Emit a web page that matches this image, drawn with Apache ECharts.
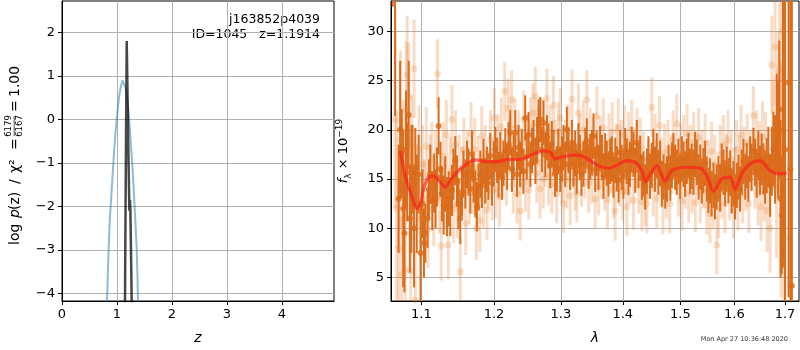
<!DOCTYPE html>
<html>
<head>
<meta charset="utf-8">
<script src="https://cdn.jsdelivr.net/npm/echarts@6/dist/echarts.min.js"></script>
<style>
  html, body { margin: 0; padding: 0; background: #fff; }
  #chart { width: 800px; height: 350px; }
</style>
</head>
<body>
<div id="chart"></div>
<script>
// p(z) panel: redshift grid and log p(z) curves
const pzBlue = [
  [0.800, -4.8], [0.814, -4.18], [0.825, -4.0], [0.840, -3.3], [0.860, -2.6], [0.875, -2.2],
  [0.890, -1.9], [0.920, -1.3], [0.947, -0.75], [0.970, -0.35], [0.996, 0.0], [1.020, 0.30],
  [1.040, 0.54], [1.070, 0.76], [1.100, 0.90], [1.117, 0.93], [1.135, 0.89], [1.160, 0.72],
  [1.190, 0.45], [1.220, 0.05], [1.250, -0.50], [1.280, -1.05], [1.300, -1.50], [1.330, -2.20],
  [1.360, -3.00], [1.375, -3.70], [1.385, -4.40], [1.395, -5.0]
];
const pzBlack = [
  [1.144, -4.8], [1.150, -3.4], [1.164, -0.6], [1.178, 1.81], [1.200, -0.1], [1.226, -2.1],
  [1.236, -1.85], [1.244, -2.05], [1.262, -3.6], [1.274, -4.8]
];

const zTicks = [0, 1, 2, 3, 4];
const pzTicks = [-4, -3, -2, -1, 0, 1, 2];

// spectrum panel: wavelength in microns, flux in 1e-19
const lamTicks = [1.1, 1.2, 1.3, 1.4, 1.5, 1.6, 1.7];
const fluxTicks = [5, 10, 15, 20, 25, 30];

// [lambda, flux, err] of the individual (faint) points
const lightPts = [
  [1.066, 21.0, 9.0], [1.068, 12.0, 10.0], [1.0705, 8.0, 7.0], [1.073, 19.0, 9.0], [1.0745, 5.3, 6.0],
  [1.0765, 15.0, 8.0], [1.079, 5.8, 6.5], [1.0805, 22.0, 7.0], [1.0815, 25.6, 6.0], [1.0835, 23.4, 5.5],
  [1.086, 5.7, 5.5], [1.0875, 18.5, 5.0], [1.0905, 26.2, 5.0], [1.0921, 2.7, 5.0], [1.0945, 14.0, 4.5],
  [1.097, 18.0, 4.5], [1.0995, 11.0, 4.5], [1.1015, 16.5, 4.0], [1.104, 13.0, 4.0], [1.1065, 18.3, 4.0],
  [1.109, 10.0, 4.0], [1.1115, 15.5, 4.0], [1.114, 17.0, 3.8], [1.1165, 12.0, 3.8], [1.119, 16.5, 3.5],
  [1.1215, 25.7, 3.5], [1.124, 13.0, 3.5], [1.1265, 8.2, 3.5], [1.129, 17.3, 3.5], [1.131, 13.5, 3.5],
  [1.1335, 19.5, 3.5], [1.136, 8.3, 3.5], [1.1385, 15.8, 3.5], [1.141, 21.05, 3.5], [1.1435, 12.0, 3.5],
  [1.146, 18.5, 3.5], [1.1485, 12.5, 3.5], [1.151, 16.0, 3.5], [1.1525, 5.6, 3.5], [1.155, 14.8, 3.5],
  [1.1575, 18.0, 3.2], [1.160, 10.5, 3.2], [1.1625, 16.7, 3.2], [1.165, 13.6, 3.2], [1.1675, 19.6, 3.2],
  [1.170, 14.6, 3.2], [1.1725, 18.0, 3.2], [1.175, 10.0, 3.2], [1.1775, 16.2, 3.2], [1.180, 10.8, 3.2],
  [1.1825, 19.4, 3.0], [1.185, 13.0, 3.0], [1.1875, 17.5, 3.0], [1.190, 11.85, 3.0], [1.1925, 15.0, 3.0],
  [1.195, 19.0, 3.0], [1.1975, 13.8, 3.0], [1.2005, 21.2, 3.0], [1.203, 14.0, 3.0], [1.2055, 18.6, 3.0],
  [1.208, 13.2, 3.0], [1.2105, 20.3, 3.0], [1.213, 16.0, 3.0], [1.2155, 23.9, 3.0], [1.218, 15.3, 3.0],
  [1.2205, 22.2, 3.0], [1.223, 18.5, 3.0], [1.2255, 23.06, 3.0], [1.228, 14.5, 3.0], [1.2305, 20.2, 3.0],
  [1.2335, 13.5, 3.0], [1.236, 19.0, 3.0], [1.2383, 11.75, 3.0], [1.241, 17.0, 3.0], [1.2435, 21.0, 3.0],
  [1.246, 14.7, 3.0], [1.2485, 18.6, 3.0], [1.251, 13.9, 3.0], [1.2535, 20.3, 3.0], [1.2572, 21.7, 3.0],
  [1.2607, 23.4, 3.0], [1.263, 15.6, 3.0], [1.2655, 19.3, 3.0], [1.268, 14.0, 3.0], [1.2705, 20.2, 3.0],
  [1.273, 15.0, 3.0], [1.2755, 17.2, 3.0], [1.2784, 23.2, 3.0], [1.281, 15.3, 3.0], [1.2835, 19.5, 3.0],
  [1.286, 14.5, 3.0], [1.2886, 22.5, 3.0], [1.291, 18.0, 3.0], [1.2935, 13.5, 3.0], [1.296, 19.8, 3.0],
  [1.299, 21.2, 3.0], [1.3015, 15.6, 3.0], [1.3042, 12.5, 3.0], [1.307, 18.0, 3.0], [1.3095, 15.0, 3.0],
  [1.312, 19.6, 3.0], [1.3146, 13.3, 3.0], [1.3173, 23.1, 3.0], [1.320, 17.0, 3.0], [1.3225, 14.8, 3.0],
  [1.3251, 13.6, 3.0], [1.3277, 21.7, 3.0], [1.330, 18.6, 3.0], [1.3325, 15.2, 3.0], [1.3355, 20.0, 3.0],
  [1.338, 16.0, 3.0], [1.3411, 23.06, 3.0], [1.344, 14.6, 3.0], [1.3465, 19.2, 3.0], [1.349, 15.5, 3.0],
  [1.3515, 18.3, 3.0], [1.3545, 13.0, 3.0], [1.3572, 21.4, 3.0], [1.360, 14.3, 3.0], [1.3625, 18.4, 3.0],
  [1.365, 16.0, 3.0], [1.3678, 20.2, 3.0], [1.370, 14.8, 3.0], [1.3746, 12.9, 3.0], [1.377, 18.6, 3.0],
  [1.380, 16.5, 3.0], [1.3825, 19.8, 3.0], [1.385, 14.0, 3.0], [1.3873, 11.75, 3.0], [1.390, 17.6, 3.0],
  [1.3925, 20.2, 3.0], [1.395, 15.2, 3.0], [1.3975, 18.0, 3.0], [1.400, 13.8, 3.0], [1.4025, 19.5, 3.0],
  [1.405, 16.4, 3.0], [1.4068, 12.2, 3.0], [1.4095, 18.8, 3.0], [1.412, 15.5, 3.0], [1.415, 20.0, 3.0],
  [1.418, 12.85, 3.0], [1.421, 17.0, 3.0], [1.424, 19.2, 3.0], [1.427, 14.5, 3.0], [1.4295, 18.2, 3.0],
  [1.4323, 12.7, 3.0], [1.435, 16.8, 3.0], [1.438, 13.2, 3.0], [1.4409, 12.5, 3.0], [1.444, 16.0, 3.0],
  [1.4495, 22.3, 3.0], [1.452, 14.2, 3.0], [1.455, 18.6, 3.0], [1.458, 13.0, 3.0], [1.4628, 20.45, 3.0],
  [1.466, 16.2, 3.0], [1.469, 12.4, 3.0], [1.472, 17.6, 3.0], [1.475, 14.0, 3.0], [1.478, 18.0, 3.0],
  [1.481, 12.5, 3.0], [1.484, 16.5, 3.0], [1.487, 19.0, 3.0], [1.4935, 20.65, 3.0], [1.4965, 14.2, 3.0],
  [1.500, 17.6, 3.0], [1.503, 12.8, 3.0], [1.506, 18.5, 3.0], [1.509, 15.0, 3.0], [1.512, 19.6, 3.0],
  [1.515, 13.6, 3.0], [1.518, 17.5, 3.0], [1.521, 14.5, 3.0], [1.524, 18.8, 3.0], [1.527, 12.6, 3.0],
  [1.530, 16.8, 3.0], [1.533, 19.2, 3.0], [1.536, 13.5, 3.0], [1.539, 17.0, 3.0], [1.542, 15.0, 3.0],
  [1.545, 18.6, 3.0], [1.5481, 12.35, 3.0], [1.551, 16.0, 3.0], [1.554, 11.5, 3.0], [1.557, 17.8, 3.0],
  [1.560, 13.0, 3.0], [1.563, 16.5, 3.0], [1.5667, 8.3, 3.0], [1.570, 12.0, 3.0], [1.573, 17.5, 3.0],
  [1.576, 14.0, 3.0], [1.579, 18.5, 3.0], [1.582, 12.5, 3.0], [1.585, 16.6, 3.0], [1.588, 19.0, 3.0],
  [1.591, 13.8, 3.0], [1.594, 17.0, 3.0], [1.5983, 11.95, 3.0], [1.601, 15.2, 3.0], [1.604, 18.0, 3.0],
  [1.607, 12.8, 3.0], [1.610, 16.5, 3.0], [1.613, 19.5, 3.0], [1.616, 13.5, 3.0], [1.619, 17.3, 3.0],
  [1.622, 14.8, 3.0], [1.625, 18.6, 3.0], [1.628, 12.5, 3.0], [1.631, 17.0, 3.0], [1.6369, 21.45, 3.0],
  [1.640, 15.2, 3.2], [1.643, 18.8, 3.2], [1.646, 13.6, 3.3], [1.649, 17.5, 3.4], [1.652, 12.2, 3.5],
  [1.655, 19.3, 3.6], [1.658, 14.5, 3.8], [1.661, 17.8, 4.0], [1.664, 11.8, 4.2], [1.6699, 10.0, 4.5],
  [1.6733, 26.6, 5.0], [1.676, 19.5, 5.5], [1.680, 28.4, 6.0], [1.683, 14.0, 7.0], [1.686, 22.0, 8.0],
  [1.689, 26.0, 10.0], [1.692, 15.0, 12.0], [1.695, 30.0, 14.0], [1.698, 9.0, 15.0]
];

// [lambda, flux, err] of the binned (dark) points
const darkPts = [
  [1.063, 40.0, 7.5], [1.066, 36.0, 14.6], [1.0705, 13.0, 5.5], [1.0725, 20.0, 7.0], [1.0745, 17.6, 4.5],
  [1.0765, 12.0, 8.0], [1.078, 9.5, 6.0], [1.080, 18.0, 6.0], [1.0815, 15.7, 5.0], [1.0835, 21.5, 5.5],
  [1.085, 11.0, 5.5], [1.087, 14.0, 6.5], [1.0885, 16.0, 4.5], [1.0905, 10.0, 6.0], [1.0921, 16.2, 4.0],
  [1.094, 12.5, 5.0], [1.0965, 15.5, 4.0], [1.099, 7.5, 5.0], [1.1015, 12.5, 3.5], [1.1035, 8.5, 3.5],
  [1.1053, 9.5, 3.0], [1.1083, 11.0, 3.0], [1.110, 14.0, 3.0], [1.1119, 15.5, 3.0], [1.1145, 12.8, 3.0],
  [1.117, 14.6, 3.0], [1.119, 13.0, 3.0], [1.1208, 15.2, 3.0], [1.123, 20.4, 2.9], [1.1255, 16.0, 2.8],
  [1.1275, 13.5, 2.8], [1.1298, 12.35, 3.0], [1.132, 14.5, 2.8], [1.1343, 12.2, 3.0], [1.1365, 13.0, 2.8],
  [1.1388, 12.2, 3.0], [1.1411, 13.86, 2.6], [1.143, 15.5, 2.6], [1.1457, 16.87, 2.5], [1.148, 14.8, 2.6],
  [1.150, 12.5, 2.6], [1.1525, 11.0, 2.6], [1.1549, 13.7, 2.5], [1.157, 15.5, 2.4], [1.1595, 14.5, 2.5],
  [1.1618, 16.5, 2.4], [1.164, 15.7, 2.4], [1.1665, 14.0, 2.5], [1.1688, 17.54, 2.4], [1.171, 15.0, 2.4],
  [1.1735, 13.5, 2.4], [1.1757, 12.2, 2.5], [1.178, 14.2, 2.4], [1.1805, 15.5, 2.4], [1.1828, 14.36, 2.3],
  [1.185, 16.8, 2.3], [1.1875, 14.8, 2.3], [1.1899, 16.0, 2.3], [1.192, 15.2, 2.3], [1.1946, 17.37, 2.3],
  [1.197, 14.6, 2.3], [1.1994, 16.54, 2.3], [1.202, 18.0, 2.3], [1.2045, 16.9, 2.3], [1.2066, 15.43, 2.3],
  [1.209, 17.5, 2.3], [1.2115, 15.2, 2.3], [1.2138, 16.6, 2.3], [1.2163, 17.87, 2.3], [1.219, 16.2, 2.3],
  [1.2212, 18.5, 2.3], [1.2236, 19.7, 2.3], [1.226, 16.0, 2.3], [1.2285, 17.2, 2.3], [1.2309, 19.7, 2.3],
  [1.2335, 15.5, 2.3], [1.2358, 18.2, 2.3], [1.238, 16.5, 2.3], [1.2405, 17.8, 2.3], [1.243, 15.8, 2.3],
  [1.2457, 21.2, 2.3], [1.248, 17.3, 2.3], [1.2507, 19.5, 2.3], [1.2535, 16.5, 2.3], [1.256, 17.9, 2.3],
  [1.2582, 18.7, 2.3], [1.261, 16.8, 2.3], [1.2635, 19.0, 2.3], [1.2657, 20.5, 2.6], [1.2683, 21.05, 2.3],
  [1.2708, 18.0, 2.3], [1.2733, 20.7, 2.3], [1.276, 17.5, 2.3], [1.2785, 19.2, 2.3], [1.2809, 18.37, 2.3],
  [1.2835, 16.37, 2.3], [1.286, 18.6, 2.3], [1.2886, 17.7, 2.3], [1.291, 15.5, 2.3], [1.2938, 16.03, 2.3],
  [1.296, 17.8, 2.3], [1.299, 16.0, 2.3], [1.3016, 17.04, 2.3], [1.304, 18.2, 2.3], [1.3068, 16.5, 2.3],
  [1.3094, 20.05, 2.3], [1.3119, 17.87, 2.3], [1.3145, 16.2, 2.3], [1.3173, 18.7, 2.3], [1.3198, 16.54, 2.3],
  [1.3225, 17.6, 2.3], [1.325, 15.8, 2.3], [1.3277, 18.37, 2.3], [1.330, 17.2, 2.3], [1.3325, 15.6, 2.3],
  [1.3356, 16.54, 2.3], [1.3385, 17.9, 2.3], [1.3411, 18.87, 2.3], [1.344, 16.3, 2.3], [1.3465, 17.3, 2.3],
  [1.3492, 17.7, 2.3], [1.3518, 19.37, 2.3], [1.3545, 16.0, 2.3], [1.357, 17.6, 2.3], [1.3598, 16.2, 2.3],
  [1.3625, 18.1, 2.3], [1.3654, 17.2, 2.3], [1.368, 15.3, 2.3], [1.3708, 17.37, 2.3], [1.3735, 16.6, 2.3],
  [1.3762, 15.53, 2.3], [1.379, 16.8, 2.3], [1.3818, 17.04, 2.3], [1.3845, 15.4, 2.3], [1.3875, 16.9, 2.3],
  [1.3901, 16.03, 2.3], [1.393, 14.9, 2.3], [1.3956, 17.7, 2.3], [1.398, 16.2, 2.3], [1.401, 15.3, 2.3],
  [1.404, 17.87, 2.3], [1.4068, 16.8, 2.3], [1.4095, 15.7, 2.3], [1.412, 16.5, 2.3], [1.415, 18.0, 2.3],
  [1.418, 17.54, 2.3], [1.421, 15.9, 2.3], [1.4238, 18.7, 2.3], [1.4265, 16.37, 2.3], [1.4295, 17.1, 2.3],
  [1.4323, 15.2, 2.3], [1.4351, 15.53, 2.3], [1.438, 14.2, 2.3], [1.441, 15.8, 2.3], [1.4437, 17.04, 2.3],
  [1.4465, 15.3, 2.3], [1.4495, 16.4, 2.3], [1.452, 17.8, 2.3], [1.455, 16.0, 2.3], [1.4582, 17.37, 2.3],
  [1.461, 15.7, 2.3], [1.464, 16.6, 2.3], [1.467, 14.5, 2.3], [1.470, 15.2, 2.3], [1.473, 14.3, 2.3],
  [1.476, 15.0, 2.3], [1.479, 16.2, 2.3], [1.482, 15.1, 2.3], [1.4848, 16.4, 2.3], [1.4875, 17.37, 2.3],
  [1.4905, 16.2, 2.3], [1.4935, 15.7, 2.3], [1.4965, 16.8, 2.3], [1.4995, 15.3, 2.3], [1.5026, 17.04, 2.3],
  [1.5055, 16.5, 2.3], [1.5085, 15.5, 2.3], [1.5115, 16.8, 2.3], [1.5144, 17.37, 2.3], [1.5175, 15.8, 2.3],
  [1.5205, 16.3, 2.3], [1.5236, 15.7, 2.3], [1.5265, 17.5, 2.3], [1.5297, 16.7, 2.3], [1.533, 15.2, 2.3],
  [1.536, 16.2, 2.3], [1.539, 14.8, 2.3], [1.5419, 15.86, 2.3], [1.545, 16.6, 2.3], [1.548, 15.0, 2.3],
  [1.5511, 13.86, 2.3], [1.554, 14.8, 2.3], [1.557, 13.5, 2.3], [1.5605, 14.36, 2.3], [1.5635, 13.2, 2.3],
  [1.5665, 14.2, 2.3], [1.5698, 15.03, 2.3], [1.573, 14.0, 2.3], [1.576, 16.3, 2.3], [1.5794, 15.7, 2.3],
  [1.5825, 14.6, 2.3], [1.5855, 16.0, 2.3], [1.5887, 14.86, 2.3], [1.592, 15.6, 2.3], [1.595, 13.8, 2.3],
  [1.5983, 14.53, 2.3], [1.6015, 13.2, 2.3], [1.6047, 14.36, 2.3], [1.608, 15.2, 2.3], [1.611, 14.0, 2.3],
  [1.6143, 15.7, 2.3], [1.6175, 16.8, 2.3], [1.621, 15.2, 2.3], [1.624, 16.37, 2.3], [1.627, 15.0, 2.3],
  [1.6304, 17.04, 2.3], [1.6335, 16.2, 2.4], [1.637, 17.8, 2.4], [1.6402, 16.7, 2.4], [1.6435, 15.6, 2.5],
  [1.6466, 17.37, 2.5], [1.650, 15.9, 2.5], [1.6533, 17.0, 2.6], [1.6566, 16.03, 2.6], [1.660, 15.2, 2.7],
  [1.6633, 16.37, 2.8], [1.6665, 17.3, 3.0], [1.6699, 14.36, 3.2], [1.6735, 16.8, 3.5], [1.6766, 18.04, 3.8],
  [1.680, 17.0, 4.5], [1.6834, 20.7, 5.0], [1.686, 19.0, 6.0], [1.6886, 22.06, 7.0], [1.691, 13.0, 8.0],
  [1.6934, 11.35, 6.0], [1.696, 20.0, 14.0], [1.700, 18.0, 20.0], [1.7073, 24.8, 21.8], [1.711, 16.0, 25.0],
  [1.7141, 4.16, 30.0]
];

// best-fit template (red)
const modelLam = [
  1.0727, 1.0791, 1.0856, 1.0945, 1.0987, 1.1030, 1.1096, 1.1163, 1.1253, 1.1320, 1.1388, 1.1479,
  1.1618, 1.1734, 1.1899, 1.2042, 1.2187, 1.2383, 1.2582, 1.2733, 1.2835, 1.2912, 1.3016, 1.3198,
  1.3331, 1.3464, 1.3626, 1.3762, 1.3901, 1.4068, 1.4209, 1.4323, 1.4380, 1.4466, 1.4582, 1.4727,
  1.4845, 1.5114, 1.5358, 1.5481, 1.5605, 1.5762, 1.5919, 1.6014, 1.6143, 1.6304, 1.6500, 1.6699,
  1.6900, 1.7035
];
const modelFlux = [
  17.87, 15.36, 13.7, 12.0, 12.5, 14.0, 15.2, 15.3, 14.7, 14.2, 14.86, 15.7,
  16.54, 16.94, 16.77, 16.77, 16.97, 17.0, 17.54, 17.87, 17.71, 17.04, 17.27, 17.44,
  17.37, 16.87, 16.3, 16.1, 16.43, 16.87, 16.7, 15.86, 14.7, 15.53, 16.37, 14.76,
  15.86, 16.2, 16.1, 15.36, 13.76, 15.03, 15.2, 13.96, 15.53, 16.54, 16.87, 15.86,
  15.53, 15.63
];

const lg = v => Math.log10(v);
const minusFmt = v => (v < 0 ? '\u2212' + Math.abs(v) : String(v));

const FONT = 'DejaVu Sans';
const darkOrange = '#da6c1c';
const lightOrange = 'rgba(232, 128, 50, 0.28)';
const gridColor = '#b0b0b0';

// vertical error bars, drawn through the axis scales
function errBars(color, width) {
  return function (params, api) {
    const x = api.value(0), y = api.value(1), e = api.value(2);
    const p1 = api.coord([x, y - e]);
    const p2 = api.coord([x, y + e]);
    return {
      type: 'line',
      shape: { x1: p1[0], y1: p1[1], x2: p2[0], y2: p2[1] },
      style: { stroke: color, lineWidth: width }
    };
  };
}

const axisCommon = {
  axisLine: { show: true, onZero: false, lineStyle: { color: '#000', width: 1 } },
  axisTick: { show: true, inside: false, length: 4, lineStyle: { color: '#000' } },
  splitLine: { show: true, lineStyle: { color: gridColor, width: 1 } },
  axisLabel: { color: '#000', fontSize: 13, fontFamily: FONT, margin: 7 }
};

// pieces of the p(z) y label: [text, offset along the label, italic]
const pzLabelParts = [
  ['log', -93, false], ['p', -66, true], ['(z)', -58, false], ['/', -32, false],
  ['\u03c7\u00b2', -21, false], ['=', 2, false], ['=', 40, false], ['1.00', 55, false]
];

const chart = echarts.init(document.getElementById('chart'));

const option = {
  animation: false,
  backgroundColor: '#fff',
  textStyle: { fontFamily: FONT },
  grid: [
    { left: 62, right: 466, top: 1, bottom: 46, show: true, borderColor: '#000', borderWidth: 1, backgroundColor: 'transparent' },
    { left: 391, right: 1, top: 1, bottom: 46, show: true, borderColor: '#000', borderWidth: 1, backgroundColor: 'transparent' }
  ],
  xAxis: [
    {
      type: 'value', gridIndex: 0, min: 0, max: 4.95,
      ...axisCommon,
      axisTick: { ...axisCommon.axisTick, customValues: zTicks },
      axisLabel: { ...axisCommon.axisLabel, customValues: zTicks },
      name: 'z', nameLocation: 'middle', nameGap: 30,
      nameTextStyle: { fontSize: 14, fontStyle: 'italic', color: '#000', fontFamily: FONT }
    },
    {
      type: 'value', gridIndex: 1, min: lg(1.0608), max: lg(1.7288),
      ...axisCommon,
      axisTick: { ...axisCommon.axisTick, customValues: lamTicks.map(lg) },
      axisLabel: {
        ...axisCommon.axisLabel, customValues: lamTicks.map(lg),
        formatter: v => Math.pow(10, v).toFixed(1)
      },
      name: '\u03bb', nameLocation: 'middle', nameGap: 30,
      nameTextStyle: { fontSize: 14, fontStyle: 'italic', color: '#000', fontFamily: FONT }
    }
  ],
  yAxis: [
    {
      type: 'value', gridIndex: 0, min: -4.18, max: 2.73,
      ...axisCommon,
      axisTick: { ...axisCommon.axisTick, customValues: pzTicks },
      axisLabel: { ...axisCommon.axisLabel, customValues: pzTicks, formatter: minusFmt }
    },
    {
      type: 'value', gridIndex: 1, min: 2.62, max: 33.08,
      ...axisCommon,
      axisTick: { ...axisCommon.axisTick, customValues: fluxTicks },
      axisLabel: { ...axisCommon.axisLabel, customValues: fluxTicks },
      name: '{i|f}{sub|\u03bb}{n| \u00d7 10}{sup|\u221219}',
      nameLocation: 'middle', nameGap: 38, nameRotate: 90,
      nameTextStyle: {
        color: '#000',
        rich: {
          i: { fontSize: 13, fontStyle: 'italic', fontFamily: FONT, lineHeight: 18 },
          n: { fontSize: 13, fontFamily: FONT, lineHeight: 18 },
          sub: { fontSize: 9, fontFamily: FONT, verticalAlign: 'bottom', lineHeight: 18 },
          sup: { fontSize: 9, fontFamily: FONT, verticalAlign: 'top', lineHeight: 18 }
        }
      }
    }
  ],
  series: [
    {
      type: 'line', xAxisIndex: 0, yAxisIndex: 0, data: pzBlue, showSymbol: false,
      clip: true, lineStyle: { color: 'rgba(31,119,180,0.5)', width: 2 }
    },
    {
      type: 'line', xAxisIndex: 0, yAxisIndex: 0, data: pzBlack, showSymbol: false,
      clip: true, lineStyle: { color: 'rgba(0,0,0,0.72)', width: 2.5 }
    },
    {
      type: 'custom', xAxisIndex: 1, yAxisIndex: 1, clip: true,
      data: lightPts.map(p => [lg(p[0]), p[1], p[2]]),
      renderItem: errBars(lightOrange, 3)
    },
    {
      type: 'scatter', xAxisIndex: 1, yAxisIndex: 1, clip: true,
      data: lightPts.map(p => [lg(p[0]), p[1]]),
      symbolSize: 7, itemStyle: { color: lightOrange }
    },
    {
      type: 'custom', xAxisIndex: 1, yAxisIndex: 1, clip: true,
      data: darkPts.map(p => [lg(p[0]), p[1], p[2]]),
      renderItem: errBars(darkOrange, 2)
    },
    {
      type: 'scatter', xAxisIndex: 1, yAxisIndex: 1, clip: true,
      data: darkPts.map(p => [lg(p[0]), p[1]]),
      symbolSize: 6, itemStyle: { color: darkOrange }
    },
    {
      type: 'line', xAxisIndex: 1, yAxisIndex: 1, showSymbol: false, smooth: 0.3, clip: true,
      data: modelLam.map((l, i) => [lg(l), modelFlux[i]]),
      lineStyle: { color: 'rgba(255,25,25,0.62)', width: 3.2 }
    }
  ],
  graphic: [
    // y label of the p(z) panel, with the chi2 fraction
    {
      type: 'group', x: 15, y: 152, rotation: Math.PI / 2,
      children: pzLabelParts.map(p => ({
        type: 'text', x: p[1], y: 0,
        style: {
          text: p[0], fontSize: 14, fontFamily: FONT, fontStyle: p[2] ? 'italic' : 'normal',
          verticalAlign: 'middle', fill: '#000'
        }
      })).concat([
        { type: 'text', x: 26, y: -2, style: { text: '6179', fontSize: 8.5, fontFamily: FONT, align: 'center', verticalAlign: 'bottom', fill: '#000' } },
        { type: 'line', shape: { x1: 16, y1: -0.8, x2: 36, y2: -0.8 }, style: { stroke: '#000', lineWidth: 0.7 } },
        { type: 'text', x: 26, y: 0.5, style: { text: '6167', fontSize: 8.5, fontFamily: FONT, align: 'center', verticalAlign: 'top', fill: '#000' } }
      ])
    },
    {
      type: 'text', x: 320, y: 20,
      style: { text: 'j163852p4039', fontSize: 12.5, fontFamily: FONT, align: 'right', verticalAlign: 'middle', fill: '#000' }
    },
    {
      type: 'text', x: 320, y: 35,
      style: { text: 'ID=1045   z=1.1914', fontSize: 12.5, fontFamily: FONT, align: 'right', verticalAlign: 'middle', fill: '#000' }
    },
    {
      type: 'text', x: 788, y: 339,
      style: { text: 'Mon Apr 27 10:36:48 2020', fontSize: 6.5, fontFamily: FONT, align: 'right', verticalAlign: 'middle', fill: '#333' }
    }
  ]
};

chart.setOption(option);
</script>
</body>
</html>
